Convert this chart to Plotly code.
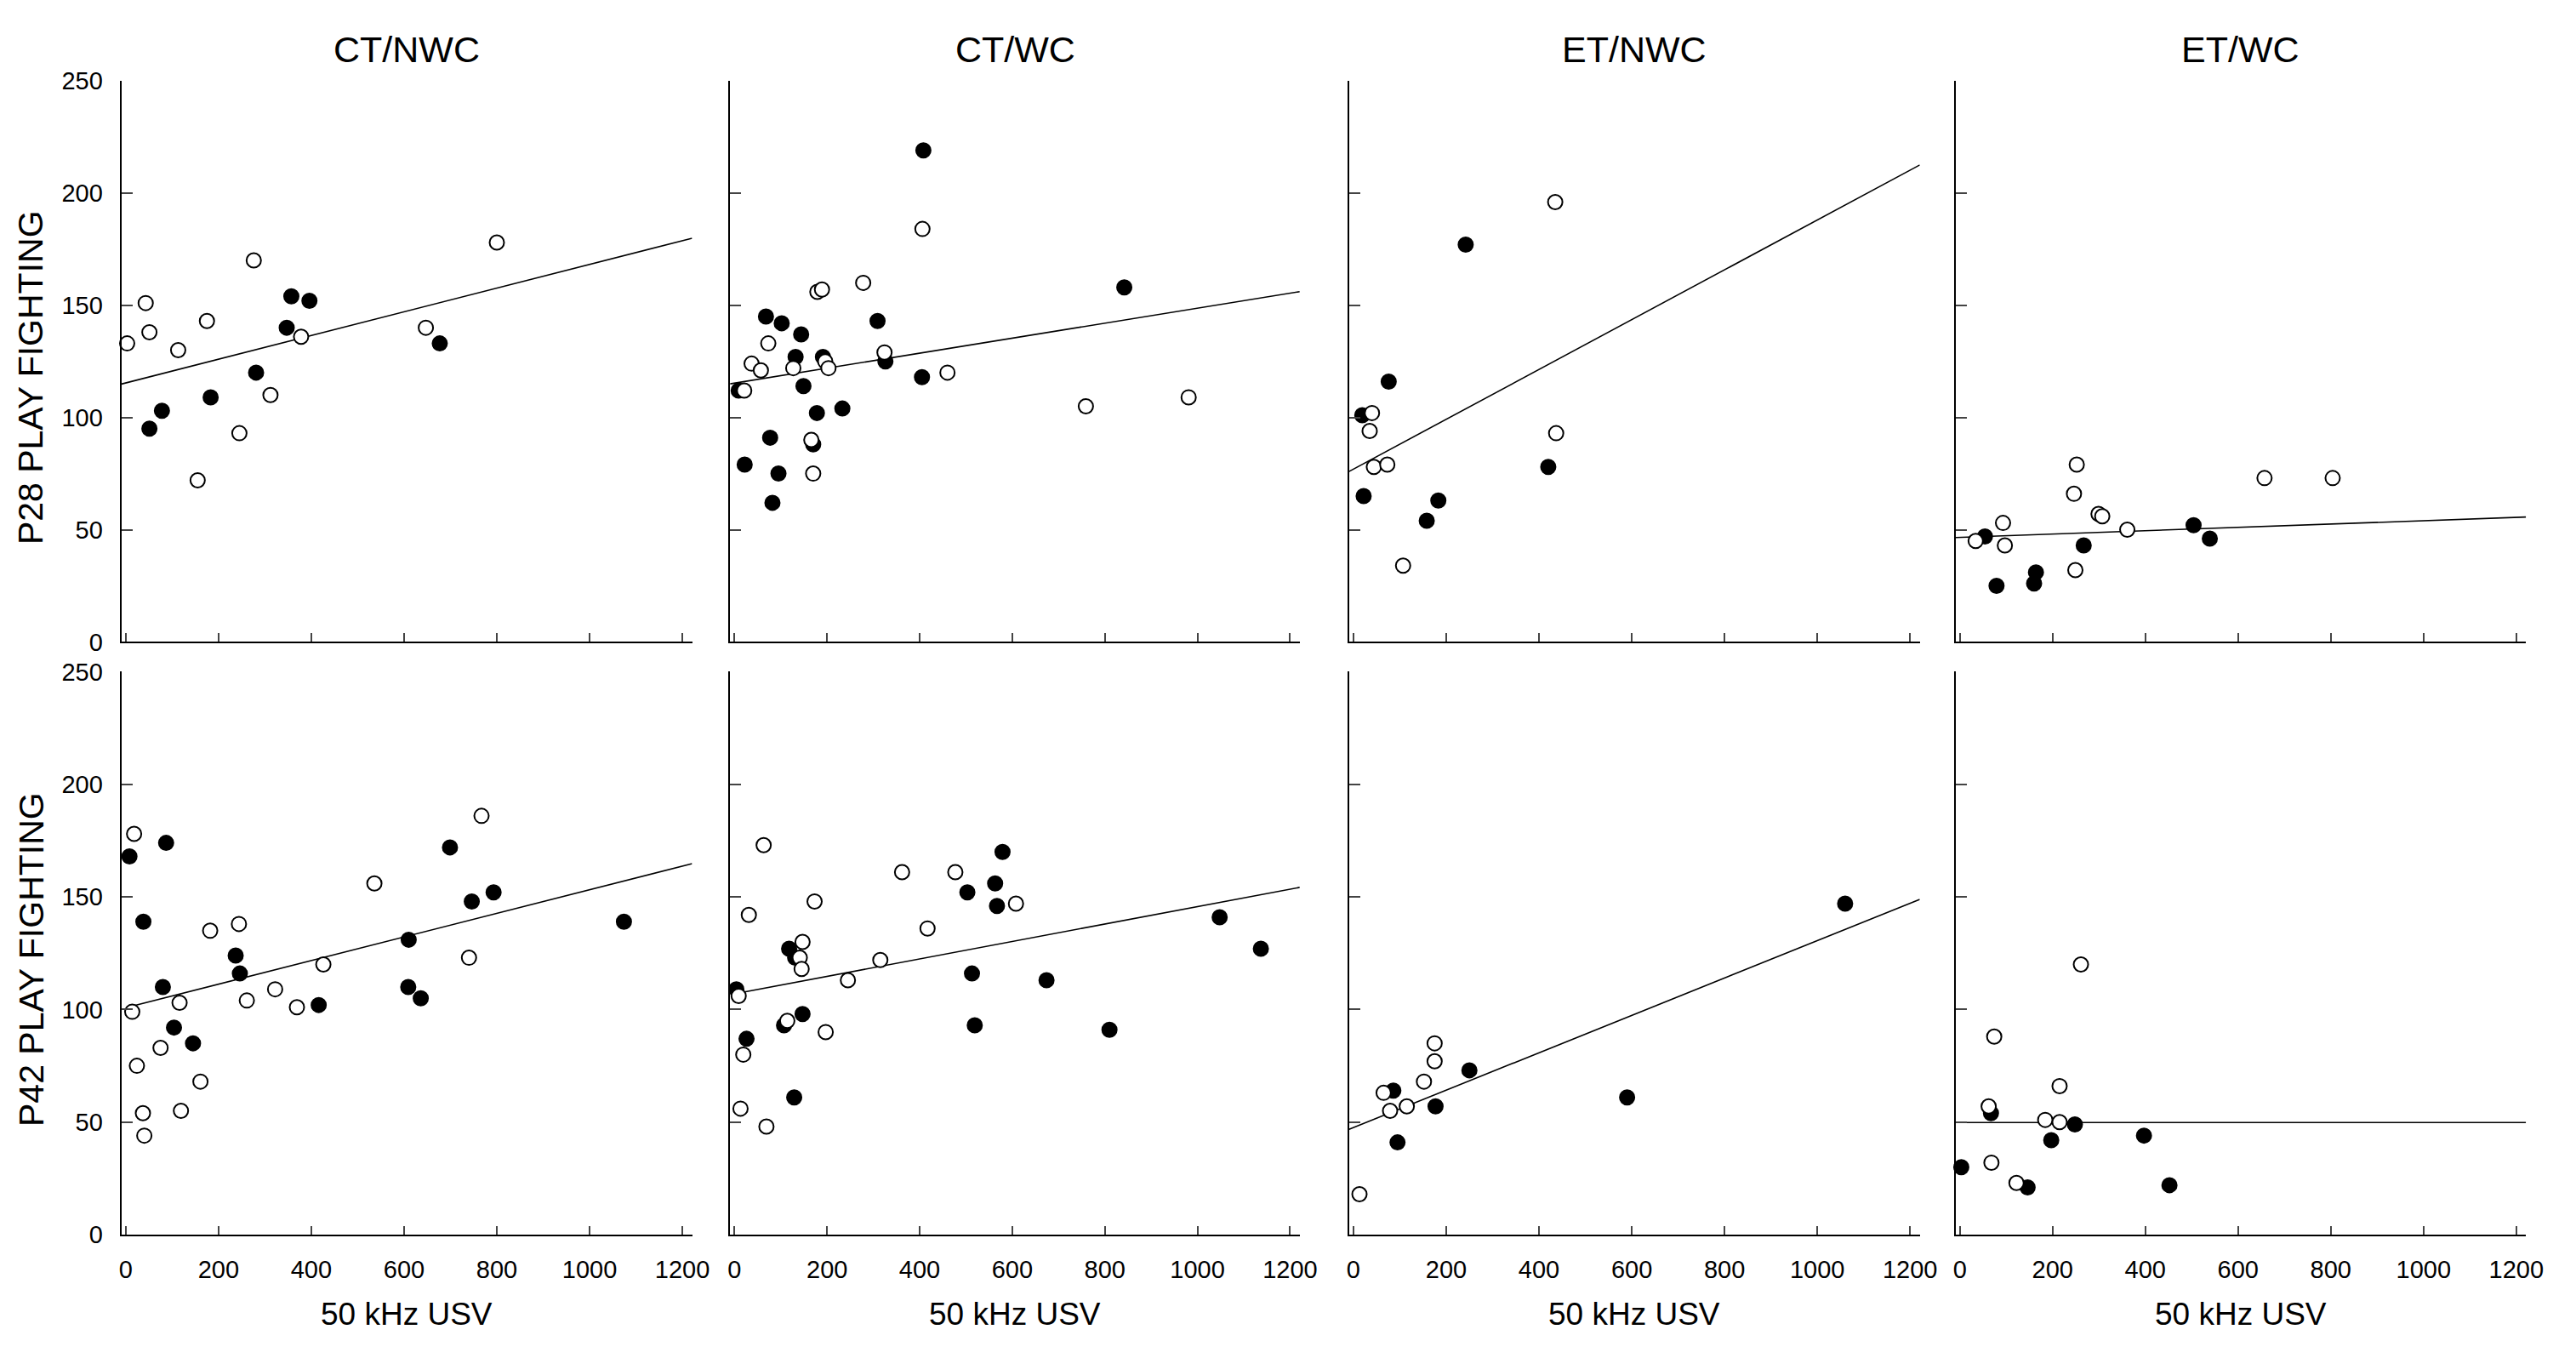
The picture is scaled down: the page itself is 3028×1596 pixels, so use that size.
import plotly.graph_objects as go

groups = ["CT/NWC", "CT/WC", "ET/NWC", "ET/WC"]
row_titles = ["P28 PLAY FIGHTING", "P42 PLAY FIGHTING"]
x_title = "50 kHz USV"
x_ticks = [0, 200, 400, 600, 800, 1000, 1200]
y_ticks = [0, 50, 100, 150, 200, 250]

# ---- P28 row ----
p28_ct_nwc_filled_x = [51, 78, 183, 281, 347, 357, 396, 677]
p28_ct_nwc_filled_y = [95, 103, 109, 120, 140, 154, 152, 133]
p28_ct_nwc_open_x = [3, 43, 51, 113, 175, 276, 155, 245, 312, 378, 647, 800]
p28_ct_nwc_open_y = [133, 151, 138, 130, 143, 170, 72, 93, 110, 136, 140, 178]

p28_ct_wc_filled_x = [408, 842, 68, 102, 144, 309, 132, 191, 326, 405, 149, 233, 178, 77, 22, 95, 82, 170, 9]
p28_ct_wc_filled_y = [219, 158, 145, 142, 137, 143, 127, 127, 125, 118, 114, 104, 102, 91, 79, 75, 62, 88, 112]
p28_ct_wc_open_x = [406, 278, 179, 189, 73, 37, 57, 127, 196, 203, 324, 460, 21, 166, 170, 759, 981]
p28_ct_wc_open_y = [184, 160, 156, 157, 133, 124, 121, 122, 125, 122, 129, 120, 112, 90, 75, 105, 109]

p28_et_nwc_filled_x = [242, 76, 19, 420, 22, 183, 158]
p28_et_nwc_filled_y = [177, 116, 101, 78, 65, 63, 54]
p28_et_nwc_open_x = [435, 40, 35, 437, 44, 73, 107]
p28_et_nwc_open_y = [196, 102, 94, 93, 78, 79, 34]

p28_et_wc_filled_x = [54, 79, 160, 164, 267, 504, 539]
p28_et_wc_filled_y = [47, 25, 26, 31, 43, 52, 46]
p28_et_wc_open_x = [34, 93, 97, 252, 246, 249, 299, 307, 361, 657, 804]
p28_et_wc_open_y = [45, 53, 43, 79, 66, 32, 57, 56, 50, 73, 73]

# ---- P42 row ----
p42_ct_nwc_filled_x = [8, 87, 38, 80, 104, 145, 237, 246, 416, 610, 609, 636, 699, 746, 793, 1074]
p42_ct_nwc_filled_y = [168, 174, 139, 110, 92, 85, 124, 116, 102, 131, 110, 105, 172, 148, 152, 139]
p42_ct_nwc_open_x = [18, 14, 116, 75, 24, 161, 37, 40, 119, 182, 244, 261, 322, 369, 426, 536, 740, 767]
p42_ct_nwc_open_y = [178, 99, 103, 83, 75, 68, 54, 44, 55, 135, 138, 104, 109, 101, 120, 156, 123, 186]

p42_ct_wc_filled_x = [579, 563, 503, 567, 118, 131, 4, 147, 107, 26, 129, 513, 519, 674, 810, 1048, 1137]
p42_ct_wc_filled_y = [170, 156, 152, 146, 127, 123, 109, 98, 93, 87, 61, 116, 93, 113, 91, 141, 127]
p42_ct_wc_open_x = [63, 31, 173, 362, 477, 608, 417, 147, 141, 145, 315, 245, 9, 114, 197, 19, 13, 69]
p42_ct_wc_open_y = [173, 142, 148, 161, 161, 147, 136, 130, 123, 118, 122, 113, 106, 95, 90, 80, 56, 48]

p42_et_nwc_filled_x = [86, 95, 177, 250, 590, 1060]
p42_et_nwc_filled_y = [64, 41, 57, 73, 61, 147]
p42_et_nwc_open_x = [13, 65, 79, 115, 152, 175, 175]
p42_et_nwc_open_y = [18, 63, 55, 57, 68, 77, 85]

p42_et_wc_filled_x = [3, 67, 146, 197, 248, 397, 452]
p42_et_wc_filled_y = [30, 54, 21, 42, 49, 44, 22]
p42_et_wc_open_x = [261, 74, 215, 62, 184, 215, 68, 122]
p42_et_wc_open_y = [120, 88, 66, 57, 51, 50, 32, 23]

# regression lines (P28 row then P42 row)
line_intercept = [115.4, 115.3, 77.0, 46.6, 100.8, 107.0, 47.6, 49.8]
line_slope = [0.0528, 0.0334, 0.111, 0.0074, 0.0524, 0.0387, 0.083, 0.0]
line_x_start = [-9.5, -9.5, -9.5, -9.5, 8, 0, -9.5, -9.5]

panels = [
    (p28_ct_nwc_filled_x, p28_ct_nwc_filled_y, p28_ct_nwc_open_x, p28_ct_nwc_open_y),
    (p28_ct_wc_filled_x, p28_ct_wc_filled_y, p28_ct_wc_open_x, p28_ct_wc_open_y),
    (p28_et_nwc_filled_x, p28_et_nwc_filled_y, p28_et_nwc_open_x, p28_et_nwc_open_y),
    (p28_et_wc_filled_x, p28_et_wc_filled_y, p28_et_wc_open_x, p28_et_wc_open_y),
    (p42_ct_nwc_filled_x, p42_ct_nwc_filled_y, p42_ct_nwc_open_x, p42_ct_nwc_open_y),
    (p42_ct_wc_filled_x, p42_ct_wc_filled_y, p42_ct_wc_open_x, p42_ct_wc_open_y),
    (p42_et_nwc_filled_x, p42_et_nwc_filled_y, p42_et_nwc_open_x, p42_et_nwc_open_y),
    (p42_et_wc_filled_x, p42_et_wc_filled_y, p42_et_wc_open_x, p42_et_wc_open_y),
]

# the page body keeps its default 8px margin, so the figure is shrunk by it
PAGE_W, PAGE_H = 3028, 1596
BODY = 8
W, H = PAGE_W - 2 * BODY, PAGE_H - 2 * BODY
FONT = "Liberation Sans, Arial, sans-serif"
X_RANGE = [-9.5, 1221]


def fx_(px):
    return (px - BODY) / W


def fy_(py):
    return 1 - (py - BODY) / H


# pixel positions of the panels in the page
col_px = [(140.7, 817), (862, 1537), (1595.4, 2271.7), (2314, 2990)]
row_px = [(80.5, 753.5), (789.3, 1464.6)]

fig = go.Figure()
layout = dict(
    width=W, height=H,
    margin=dict(l=0, r=0, t=0, b=0),
    paper_bgcolor="white", plot_bgcolor="white",
    showlegend=False,
    font=dict(family=FONT, color="black"),
)

for k, (fx, fy, ox, oy) in enumerate(panels):
    r, c = divmod(k, 4)
    n = "" if k == 0 else str(k + 1)
    xa, ya = "x" + n, "y" + n

    x0 = line_x_start[k]
    x1 = X_RANGE[1]
    fig.add_trace(go.Scatter(
        x=[x0, x1],
        y=[line_intercept[k] + line_slope[k] * x0, line_intercept[k] + line_slope[k] * x1],
        mode="lines", line=dict(color="black", width=1.6),
        xaxis=xa, yaxis=ya, hoverinfo="skip"))
    fig.add_trace(go.Scatter(
        x=fx, y=fy, mode="markers", cliponaxis=False,
        marker=dict(size=17, color="black", line=dict(color="black", width=2)),
        xaxis=xa, yaxis=ya))
    fig.add_trace(go.Scatter(
        x=ox, y=oy, mode="markers", cliponaxis=False,
        marker=dict(size=17, color="white", line=dict(color="black", width=2)),
        xaxis=xa, yaxis=ya))

    cx0, cx1 = col_px[c]
    ry0, ry1 = row_px[r]
    layout["xaxis" + n] = dict(
        domain=[fx_(cx0), fx_(cx1)], anchor=ya, range=X_RANGE,
        tickvals=x_ticks, ticks="inside", ticklen=10, tickwidth=2,
        showline=True, linecolor="black", linewidth=2,
        showgrid=False, zeroline=False,
        showticklabels=(r == 1), ticklabelstandoff=14,
        tickfont=dict(size=29, family=FONT, color="black"))
    layout["yaxis" + n] = dict(
        domain=[fy_(ry1), fy_(ry0)], anchor=xa, range=[0, 250],
        tickvals=y_ticks, ticks="inside", ticklen=13, tickwidth=2,
        showline=True, linecolor="black", linewidth=2,
        showgrid=False, zeroline=False,
        showticklabels=(c == 0), ticklabelstandoff=14,
        tickfont=dict(size=29, family=FONT, color="black"))

annotations = []
for c, name in enumerate(groups):
    cx = fx_((col_px[c][0] + col_px[c][1]) / 2)
    annotations.append(dict(text=name, x=cx, y=fy_(43), xref="paper", yref="paper",
                            showarrow=False, xanchor="center", yanchor="middle",
                            font=dict(size=43, family=FONT, color="black")))
    annotations.append(dict(text=x_title, x=cx, y=fy_(1560), xref="paper", yref="paper",
                            showarrow=False, xanchor="center", yanchor="middle",
                            font=dict(size=37, family=FONT, color="black")))
for r, (title, yc) in enumerate(zip(row_titles, [436, 1134])):
    annotations.append(dict(text=title, x=fx_(34), y=fy_(yc), xref="paper", yref="paper",
                            showarrow=False, xanchor="center", yanchor="middle", textangle=-90,
                            font=dict(size=41, family=FONT, color="black")))
layout["annotations"] = annotations

fig.update_layout(**layout)
fig.write_html("out.html")
